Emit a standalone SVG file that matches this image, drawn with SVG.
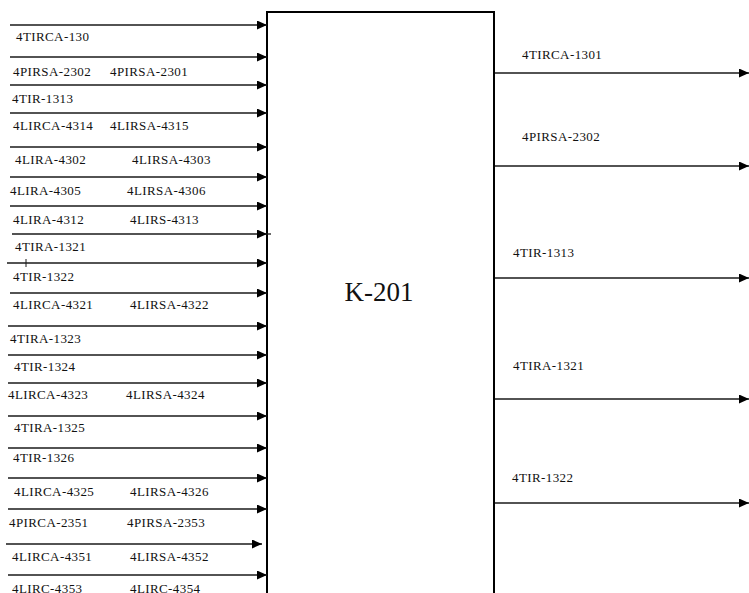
<svg xmlns="http://www.w3.org/2000/svg" width="749" height="593" viewBox="0 0 749 593">
<style>
.ln{stroke:#1a1a1a;stroke-width:1.3;fill:none;marker-end:url(#ah)}
.t{font-family:"Liberation Serif","Times New Roman",serif;font-size:13px;letter-spacing:0.4px;fill:#111}
.big{font-family:"Liberation Serif","Times New Roman",serif;font-size:27px;fill:#111}
</style>
<defs>
<marker id="ah" markerUnits="userSpaceOnUse" markerWidth="10" markerHeight="9" refX="10" refY="4.5" orient="auto">
<path d="M0,0 L10,4.5 L0,9 z" fill="#000"/>
</marker>
</defs>
<rect width="749" height="593" fill="#fff"/>
<g id="K-201">
<rect x="267" y="12" width="227" height="600" fill="none" stroke="#000" stroke-width="2"/>
<text class="big" x="379" y="301" text-anchor="middle">K-201</text>
</g>
<g id="connectors">
<path class="ln" d="M10,25H267"/>
<path class="ln" d="M10,57H267"/>
<path class="ln" d="M10,85H267"/>
<path class="ln" d="M10,113H267"/>
<path class="ln" d="M10,147H267"/>
<path class="ln" d="M10,177H267"/>
<path class="ln" d="M10,206H267"/>
<path class="ln" d="M12,234H267"/>
<path d="M267,234H271" stroke="#1a1a1a" stroke-width="1.3"/>
<path class="ln" d="M7,263H267"/>
<path d="M26,259V267" stroke="#1a1a1a" stroke-width="1"/>
<path class="ln" d="M10,293H267"/>
<path class="ln" d="M8,326H267"/>
<path class="ln" d="M8,355H267"/>
<path class="ln" d="M8,383H267"/>
<path class="ln" d="M8,416H267"/>
<path class="ln" d="M8,448H267"/>
<path class="ln" d="M8,478H267"/>
<path class="ln" d="M8,509H267"/>
<path class="ln" d="M6,544H262"/>
<path class="ln" d="M8,575H267"/>
<path class="ln" d="M495,73H749"/>
<path class="ln" d="M495,166H749"/>
<path class="ln" d="M495,278H749"/>
<path class="ln" d="M495,399H749"/>
<path class="ln" d="M495,503H749"/>
</g>
<g id="inputs">
<text class="t" x="16" y="41">4TIRCA-130</text>
<text class="t" x="13" y="76">4PIRSA-2302</text>
<text class="t" x="110" y="76">4PIRSA-2301</text>
<text class="t" x="12" y="103">4TIR-1313</text>
<text class="t" x="13" y="130">4LIRCA-4314</text>
<text class="t" x="110" y="130">4LIRSA-4315</text>
<text class="t" x="15" y="164">4LIRA-4302</text>
<text class="t" x="132" y="164">4LIRSA-4303</text>
<text class="t" x="10" y="194.5">4LIRA-4305</text>
<text class="t" x="127" y="194.5">4LIRSA-4306</text>
<text class="t" x="13" y="224">4LIRA-4312</text>
<text class="t" x="130" y="224">4LIRS-4313</text>
<text class="t" x="15" y="251">4TIRA-1321</text>
<text class="t" x="13" y="280.5">4TIR-1322</text>
<text class="t" x="13" y="309">4LIRCA-4321</text>
<text class="t" x="130" y="309">4LIRSA-4322</text>
<text class="t" x="10" y="343">4TIRA-1323</text>
<text class="t" x="14" y="371">4TIR-1324</text>
<text class="t" x="8" y="399">4LIRCA-4323</text>
<text class="t" x="126" y="399">4LIRSA-4324</text>
<text class="t" x="14" y="432">4TIRA-1325</text>
<text class="t" x="13" y="461.5">4TIR-1326</text>
<text class="t" x="14" y="495.5">4LIRCA-4325</text>
<text class="t" x="130" y="495.5">4LIRSA-4326</text>
<text class="t" x="9" y="527">4PIRCA-2351</text>
<text class="t" x="127" y="527">4PIRSA-2353</text>
<text class="t" x="12" y="560.5">4LIRCA-4351</text>
<text class="t" x="130" y="560.5">4LIRSA-4352</text>
<text class="t" x="12" y="593">4LIRC-4353</text>
<text class="t" x="130" y="593">4LIRC-4354</text>
</g>
<g id="outputs">
<text class="t" x="522" y="59">4TIRCA-1301</text>
<text class="t" x="522" y="141">4PIRSA-2302</text>
<text class="t" x="513" y="257">4TIR-1313</text>
<text class="t" x="513" y="370">4TIRA-1321</text>
<text class="t" x="512" y="482">4TIR-1322</text>
</g>
</svg>
